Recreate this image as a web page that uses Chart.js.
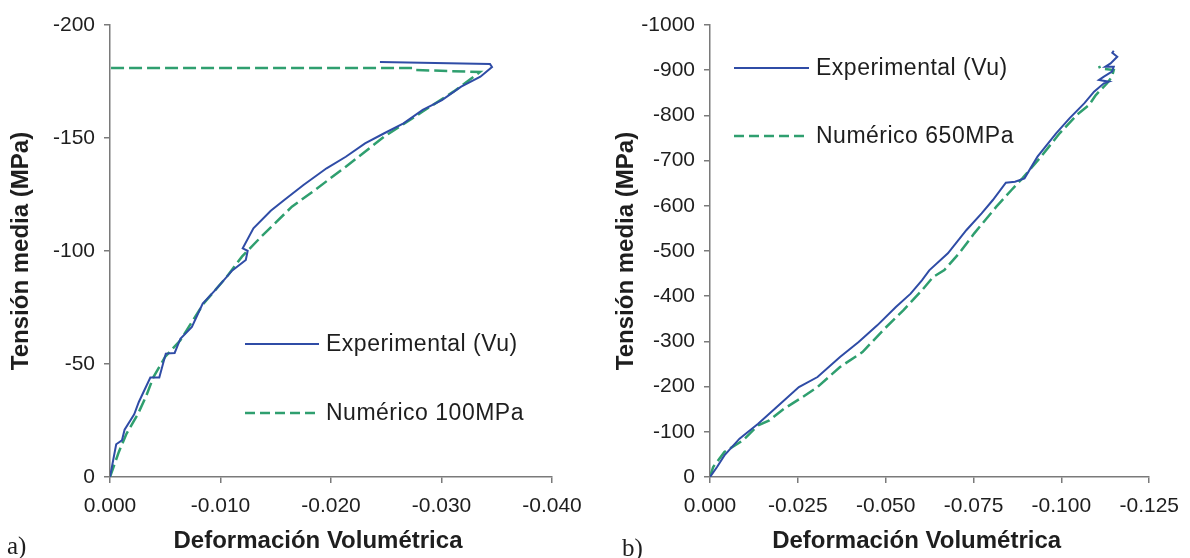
<!DOCTYPE html>
<html>
<head>
<meta charset="utf-8">
<script src="https://cdn.jsdelivr.net/npm/chart.js@4.4.1/dist/chart.umd.min.js"></script>
<style>
  html, body { margin: 0; padding: 0; background: #fff; width: 1190px; height: 558px; overflow: hidden; }
  #ca { position: absolute; left: 0; top: 0; }
  #cb { position: absolute; left: 600px; top: 0; }
  .tag { position: absolute; font-family: "Liberation Serif", "Times New Roman", serif; font-size: 25px; color: #1e1e1e; line-height: 1; }
</style>
</head>
<body>
<canvas id="ca" width="600" height="558"></canvas>
<canvas id="cb" width="590" height="558"></canvas>
<div class="tag" style="left:7px; top:533px;">a)</div>
<div class="tag" style="left:622px; top:535px;">b)</div>
<script>
// ---- Panel a) : 100 MPa ----
const expStrainA = [0, -0.00056, -0.00108, -0.00132, -0.00219, -0.00261, -0.00365, -0.00446, -0.00505, -0.00585,
  -0.00637, -0.00741, -0.00839, -0.00950, -0.01107, -0.01229, -0.01246, -0.01201, -0.01298, -0.01455,
  -0.01577, -0.01751, -0.01960, -0.02134, -0.02308, -0.02482, -0.02656, -0.02830, -0.03004, -0.03178,
  -0.03352, -0.03457, -0.03439, -0.02443];
const expStressA = [0, -14.5, -16.2, -20.9, -27.7, -33.2, -44.0, -44.0, -54.6, -54.9,
  -61.2, -66.4, -76.7, -82.6, -91.4, -96.0, -100.1, -101.2, -110.0, -117.8,
  -122.6, -129.2, -136.6, -141.7, -147.6, -152.1, -156.5, -162.4, -166.8, -172.7,
  -177.1, -181.4, -182.7, -183.6];
const numStrainA = [0, -0.0008, -0.0015, -0.00254, -0.00324, -0.00393, -0.00498, -0.00637, -0.00846, -0.01055,
  -0.01194, -0.01368, -0.01646, -0.01855, -0.02134, -0.02482, -0.02830, -0.03108, -0.03348,
  -0.0276, -0.0274, 0];
const numStressA = [0, -11.1, -19.2, -28.0, -35.4, -44.2, -53.1, -60.5, -76.7, -88.5,
  -97.5, -106.3, -119.6, -127.0, -137.3, -150.6, -161.7, -170.5, -179.2,
  -180.1, -181.0, -181.0];
const xTicksA = [0, -0.010, -0.020, -0.030, -0.040];
const yTicksA = [0, -50, -100, -150, -200];

// ---- Panel b) : 650 MPa ----
const expStrainB = [0, -0.0020, -0.0041, -0.0084, -0.0137, -0.0190, -0.0253, -0.0306, -0.0370, -0.0423,
  -0.0476, -0.0529, -0.0571, -0.0603, -0.0624, -0.0677, -0.0730, -0.0773, -0.0805, -0.0842,
  -0.0868, -0.0895, -0.0932, -0.0985, -0.1023, -0.1065, -0.1093, -0.1121, -0.1135, -0.1107,
  -0.1121, -0.1144, -0.1149, -0.1125, -0.1140, -0.1154, -0.1159, -0.1145, -0.1149];
const expStressB = [0, -22.1, -47.9, -84.8, -118.0, -154.9, -199.1, -221.2, -265.5, -298.7,
  -335.5, -376.1, -405.6, -435.1, -457.2, -494.8, -546.5, -583.3, -612.8, -651.2,
  -653.4, -660.8, -708.7, -760.3, -793.5, -826.7, -852.5, -870.9, -874.6, -878.3,
  -885.6, -896.7, -907.7, -907.7, -915.0, -926.0, -929.8, -938.7, -943.0];
const numStrainB = [0, -0.0009, -0.0041, -0.0094, -0.0137, -0.0169, -0.0211, -0.0264, -0.0306, -0.0370,
  -0.0434, -0.0497, -0.0550, -0.0603, -0.0635, -0.0667, -0.0709, -0.0752, -0.0815, -0.0858,
  -0.0889, -0.0942, -0.0995, -0.1045, -0.1079, -0.1098, -0.1130, -0.1144, -0.1149, -0.1110, -0.1107];
const numStressB = [0, -22.1, -55.3, -81.1, -114.3, -125.4, -151.2, -177.0, -199.1, -243.4,
  -276.5, -328.2, -368.7, -413.0, -442.5, -458.0, -494.8, -539.1, -598.1, -634.9,
  -660.8, -708.7, -760.3, -802.0, -823.0, -845.0, -871.0, -885.6, -900.4, -904.1, -909.3];
const xTicksB = [0, -0.025, -0.050, -0.075, -0.100, -0.125];
const yTicksB = [0, -100, -200, -300, -400, -500, -600, -700, -800, -900, -1000];

const BLUE = '#2f4ca6';
const GREEN = '#2f9f6f';
const AXIS = '#7a7a7a';
const TEXT = '#1e1e1e';
const FONT = '"Liberation Sans", Arial, sans-serif';
const X_TITLE = 'Deformación Volumétrica';
const Y_TITLE = 'Tensión media (MPa)';

const pairs = (xs, ys) => xs.map((x, i) => ({ x: x, y: ys[i] }));

// Legend drawn inside the plot area, one row per dataset
const inlineLegend = {
  id: 'inlineLegend',
  afterDatasetsDraw(chart, args, o) {
    const ctx = chart.ctx;
    chart.data.datasets.forEach((ds, i) => {
      const y = o.rows[i];
      ctx.save();
      ctx.strokeStyle = ds.borderColor;
      ctx.lineWidth = ds.borderWidth;
      ctx.setLineDash(o.dash[i] || []);
      ctx.beginPath();
      ctx.moveTo(o.x0, y);
      ctx.lineTo(o.x1, y);
      ctx.stroke();
      ctx.setLineDash([]);
      ctx.fillStyle = TEXT;
      ctx.font = '23px ' + FONT;
      ctx.textBaseline = 'middle';
      ctx.textAlign = 'left';
      if ('letterSpacing' in ctx) ctx.letterSpacing = '0.5px';
      ctx.fillText(ds.label, o.x1 + 7, y + 1);
      ctx.restore();
    });
  }
};

// Horizontal axis caption, centred slightly left of the plot centre
const xCaption = {
  id: 'xCaption',
  afterDraw(chart, args, o) {
    const ctx = chart.ctx;
    const a = chart.chartArea;
    ctx.save();
    ctx.fillStyle = TEXT;
    ctx.font = 'bold 24px ' + FONT;
    ctx.textAlign = 'center';
    ctx.textBaseline = 'middle';
    ctx.fillText(o.text, (a.left + a.right) / 2 + o.dx, o.y);
    ctx.restore();
  }
};

function makeChart(id, cfg) {
  return new Chart(document.getElementById(id), {
    type: 'scatter',
    data: {
      datasets: [
        { label: 'Experimental (Vu)', data: pairs(cfg.expX, cfg.expY), showLine: true,
          borderColor: BLUE, borderWidth: 2, pointRadius: 0, tension: 0, order: 1 },
        { label: cfg.numLabel, data: pairs(cfg.numX, cfg.numY), showLine: true,
          borderColor: GREEN, borderWidth: 2.5, borderDash: [13, 5], pointRadius: 0, tension: 0, order: 2 }
      ]
    },
    plugins: [inlineLegend, xCaption],
    options: {
      responsive: false,
      animation: false,
      devicePixelRatio: 1,
      layout: { padding: { top: 25, right: cfg.padRight, left: 0, bottom: 0 } },
      plugins: {
        legend: { display: false },
        tooltip: { enabled: false },
        inlineLegend: cfg.legend,
        xCaption: { text: X_TITLE, dx: -13, y: 541 }
      },
      scales: {
        x: {
          type: 'linear', reverse: true,
          min: Math.min(...cfg.xTicks), max: 0,
          afterBuildTicks: s => { s.ticks = cfg.xTicks.map(v => ({ value: v })); },
          afterFit: s => { s.height = 81; },
          border: { display: true, color: AXIS, width: 1.5 },
          grid: { drawOnChartArea: false, drawTicks: true, tickLength: 6, color: AXIS, lineWidth: 1.5 },
          ticks: { color: TEXT, font: { family: FONT, size: 21 }, padding: 11, maxRotation: 0,
                   callback: v => Number(v).toFixed(3) },
          title: { display: false }
        },
        y: {
          type: 'linear', reverse: true,
          min: Math.min(...cfg.yTicks), max: 0,
          afterBuildTicks: s => { s.ticks = cfg.yTicks.map(v => ({ value: v })); },
          afterFit: s => { s.width = 110; },
          border: { display: true, color: AXIS, width: 1.5 },
          grid: { drawOnChartArea: false, drawTicks: true, tickLength: 6, color: AXIS, lineWidth: 1.5 },
          ticks: { color: TEXT, font: { family: FONT, size: 21 }, padding: 9,
                   callback: v => String(Math.round(v)) },
          title: { display: true, text: Y_TITLE, color: TEXT,
                   font: { family: FONT, size: 24, weight: 'bold' }, padding: { top: cfg.yTitlePad, bottom: 0 } }
        }
      }
    }
  });
}

makeChart('ca', {
  expX: expStrainA, expY: expStressA, numX: numStrainA, numY: numStressA,
  numLabel: 'Numérico 100MPa', xTicks: xTicksA, yTicks: yTicksA,
  padRight: 48, yTitlePad: 7,
  legend: { x0: 245, x1: 319, rows: [344, 413], dash: [[], [10, 5]] }
});

makeChart('cb', {
  expX: expStrainB, expY: expStressB, numX: numStrainB, numY: numStressB,
  numLabel: 'Numérico 650MPa', xTicks: xTicksB, yTicks: yTicksB,
  padRight: 34, yTitlePad: 12,
  legend: { x0: 134, x1: 209, rows: [68, 136], dash: [[], [10, 5]] }
});
</script>
</body>
</html>
